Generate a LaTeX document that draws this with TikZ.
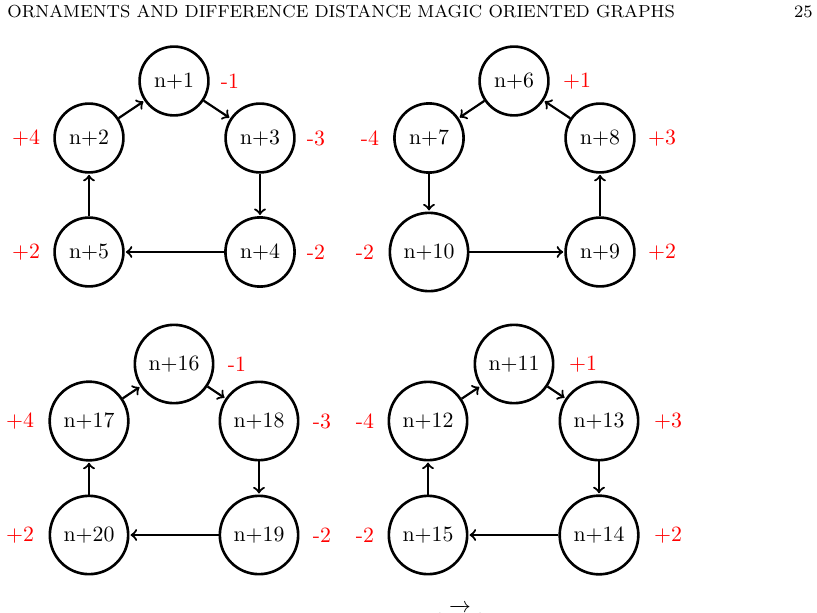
\documentclass[tikz,border=0pt]{standalone}
\usepackage{xcolor}
\begin{document}
\begin{tikzpicture}[
  x=0.4587pt, y=-0.4587pt,
  vtx/.style={circle, draw, very thick, inner sep=4.4pt, font=\normalsize},
  arc/.style={->, line width=1pt, shorten >=0.5pt},
  wt/.style={text=red, font=\normalsize},
  runhead/.style={font=\fontsize{8}{10}\selectfont, inner sep=0pt}
]
\useasboundingbox (0,0) rectangle (817,612);

% running head
\node[runhead, anchor=base west] (head) at (7,18) {ORNAMENTS AND DIFFERENCE DISTANCE MAGIC ORIENTED GRAPHS};
\node[runhead, anchor=base east] (page) at (813,18) {25};

% first cycle
\node[vtx] (a1) at (174,81)  {n+1};
\node[vtx] (a2) at (89,138)  {n+2};
\node[vtx] (a3) at (260,138) {n+3};
\node[vtx] (a4) at (260,252) {n+4};
\node[vtx] (a5) at (89,252)  {n+5};
\draw[arc] (a2) -- (a1);
\draw[arc] (a1) -- (a3);
\draw[arc] (a3) -- (a4);
\draw[arc] (a4) -- (a5);
\draw[arc] (a5) -- (a2);
\node[wt] (wa1) at (230,81)  {-1};
\node[wt] (wa2) at (26,138)  {+4};
\node[wt] (wa3) at (316,138) {-3};
\node[wt] (wa4) at (316,252) {-2};
\node[wt] (wa5) at (26,252)  {+2};

% second cycle
\node[vtx] (b6)  at (514,81)  {n+6};
\node[vtx] (b7)  at (429,138) {n+7};
\node[vtx] (b8)  at (600,138) {n+8};
\node[vtx] (b9)  at (600,252) {n+9};
\node[vtx] (b10) at (429,252) {n+10};
\draw[arc] (b6) -- (b7);
\draw[arc] (b7) -- (b10);
\draw[arc] (b10) -- (b9);
\draw[arc] (b9) -- (b8);
\draw[arc] (b8) -- (b6);
\node[wt] (wb6)  at (577,81)  {+1};
\node[wt] (wb7)  at (370,138) {-4};
\node[wt] (wb8)  at (662,138) {+3};
\node[wt] (wb9)  at (662,252) {+2};
\node[wt] (wb10) at (365,252) {-2};

% third cycle
\node[vtx] (c16) at (174,364) {n+16};
\node[vtx] (c17) at (89,421)  {n+17};
\node[vtx] (c18) at (259,421) {n+18};
\node[vtx] (c19) at (259,535) {n+19};
\node[vtx] (c20) at (89,535)  {n+20};
\draw[arc] (c17) -- (c16);
\draw[arc] (c16) -- (c18);
\draw[arc] (c18) -- (c19);
\draw[arc] (c19) -- (c20);
\draw[arc] (c20) -- (c17);
\node[wt] (wc16) at (237,364) {-1};
\node[wt] (wc17) at (20,421)  {+4};
\node[wt] (wc18) at (322,421) {-3};
\node[wt] (wc19) at (322,535) {-2};
\node[wt] (wc20) at (20,535)  {+2};

% fourth cycle
\node[vtx] (d11) at (514,364) {n+11};
\node[vtx] (d12) at (428,421) {n+12};
\node[vtx] (d13) at (599,421) {n+13};
\node[vtx] (d14) at (599,535) {n+14};
\node[vtx] (d15) at (428,535) {n+15};
\draw[arc] (d12) -- (d11);
\draw[arc] (d11) -- (d13);
\draw[arc] (d13) -- (d14);
\draw[arc] (d14) -- (d15);
\draw[arc] (d15) -- (d12);
\node[wt] (wd11) at (583,364) {+1};
\node[wt] (wd12) at (365,421) {-4};
\node[wt] (wd13) at (668,421) {+3};
\node[wt] (wd14) at (668,535) {+2};
\node[wt] (wd15) at (365,535) {-2};

% caption line, cut by the page edge
\node[anchor=base, inner sep=0pt] (cap) at (460,629)
  {$(\hbox to 17pt{\hss$\overrightarrow{\rule{0pt}{8.5pt}\hbox to 3pt{}}$\hss})$};
\end{tikzpicture}
\end{document}
